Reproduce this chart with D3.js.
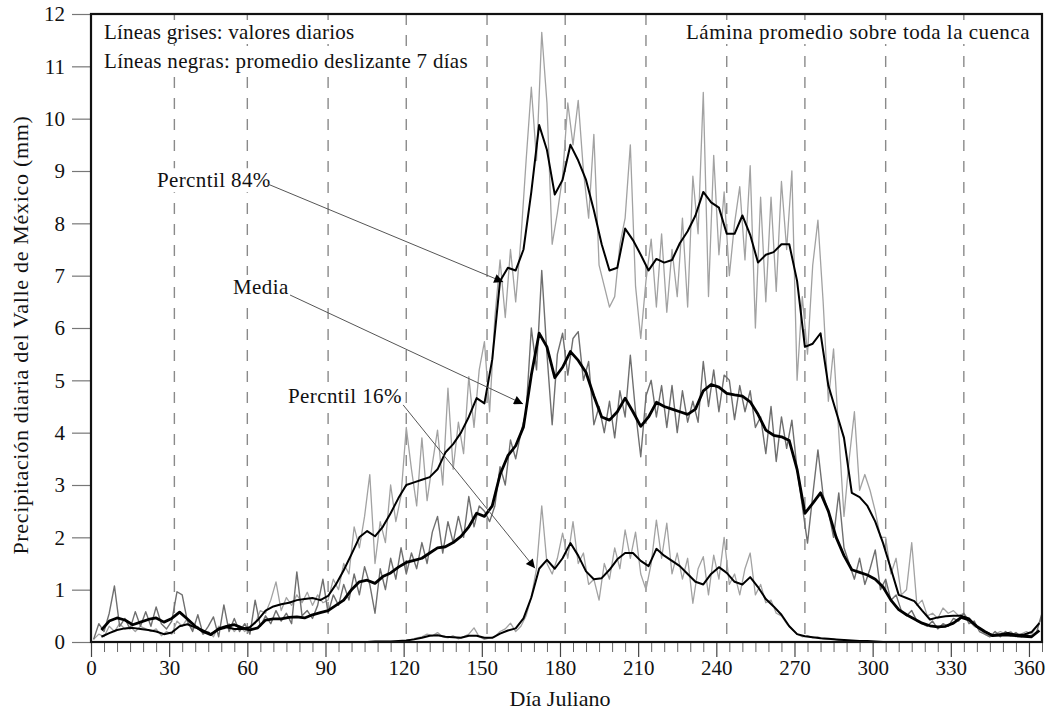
<!DOCTYPE html>
<meta charset="utf-8">
<html>
<head>
<script src="https://cdn.jsdelivr.net/npm/d3@7/dist/d3.min.js"></script>
<style>
body { margin: 0; background: #fff; }
svg text { font-family: "Liberation Serif", "Times New Roman", serif; fill: #111; }
</style>
</head>
<body>
<script>

// ---- data ------------------------------------------------------------------
// daily values (gray) are read every 2nd day, 7-day means (black) every 3rd day
var grayDays  = d3.range(1, 366, 2);
var blackDays = d3.range(4, 365, 3);

var p84Daily = [
  0.05,0.15,0.10,0.30,0.20,0.35,0.25,0.30,0.20,0.30,
  0.25,0.20,0.25,0.12,0.20,0.15,0.40,0.30,0.45,0.25,
  0.30,0.15,0.20,0.10,0.30,0.25,0.35,0.20,0.30,0.20,
  0.30,0.35,0.60,0.55,0.80,1.15,0.60,0.85,0.70,0.90,
  0.75,0.95,0.70,0.90,0.75,0.80,1.20,1.00,1.50,1.30,
  2.20,1.80,2.40,3.20,1.50,2.30,1.90,3.00,2.30,2.80,
  4.10,3.30,2.60,3.90,2.70,3.40,4.05,3.00,4.85,3.30,
  4.20,3.60,5.07,4.10,5.20,5.74,4.40,6.20,7.30,6.20,
  7.50,6.50,7.70,9.20,10.60,9.20,11.65,10.30,7.60,8.20,
  8.90,10.30,9.50,10.35,9.00,8.10,9.70,7.20,6.80,6.40,
  6.60,7.60,8.10,9.50,6.80,5.80,6.90,7.70,6.40,7.80,
  6.30,7.50,6.60,8.10,6.40,8.90,7.80,10.50,6.60,9.30,
  7.40,8.60,7.00,8.00,8.70,7.30,9.10,6.00,8.50,6.50,
  8.50,6.70,8.80,7.50,9.00,5.00,6.60,5.50,7.20,8.06,
  6.50,4.60,5.60,4.00,2.40,3.50,4.40,2.90,3.20,2.90,
  2.50,2.00,2.00,1.30,1.60,0.90,1.00,1.90,0.70,0.80,
  0.50,0.55,0.45,0.65,0.55,0.60,0.50,0.55,0.40,0.30,
  0.25,0.15,0.10,0.15,0.20,0.15,0.20,0.10,0.15,0.20,
  0.15,0.30,0.45
];

var meanDaily = [
  0.05,0.35,0.20,0.55,1.07,0.30,0.45,0.25,0.58,0.30,
  0.58,0.30,0.67,0.35,0.25,0.40,0.96,0.90,0.40,0.20,
  0.52,0.15,0.30,0.48,0.10,0.71,0.20,0.45,0.20,0.35,
  0.15,0.80,0.30,0.50,0.35,0.60,0.40,0.55,0.35,1.34,
  0.50,0.60,0.45,0.70,1.20,0.55,0.90,0.70,1.10,0.80,
  1.30,0.90,1.44,1.10,0.55,1.40,1.00,1.60,1.20,1.80,
  1.30,1.70,1.40,1.90,1.50,2.10,2.40,1.70,2.30,1.90,
  2.40,2.00,2.78,2.20,2.60,2.50,2.30,2.60,3.35,3.00,
  3.86,3.50,4.00,4.40,6.00,5.20,7.10,5.50,4.15,5.50,
  5.90,5.10,5.80,5.93,5.00,5.36,4.15,4.50,4.00,4.60,
  3.90,4.80,4.30,5.48,4.40,3.54,4.70,5.00,4.30,4.90,
  4.10,4.90,4.00,4.80,4.20,4.60,4.20,5.36,4.50,5.20,
  4.40,5.10,5.00,4.25,4.90,4.40,4.80,4.10,4.30,3.60,
  4.50,3.45,4.30,3.70,4.24,3.30,2.60,1.89,2.80,3.67,
  2.80,2.50,2.00,2.85,1.80,1.50,1.20,1.60,1.10,1.40,
  1.76,1.00,1.20,0.80,0.90,0.60,0.50,0.60,0.40,0.35,
  0.30,0.40,0.25,0.35,0.30,0.45,0.40,0.55,0.35,0.40,
  0.20,0.15,0.10,0.20,0.10,0.20,0.12,0.18,0.10,0.15,
  0.10,0.20,0.55
];

var p16Daily = [
  0,0,0,0,0,0,0,0,0,0,
  0,0,0,0,0,0,0,0,0,0,
  0,0,0,0,0,0,0,0,0,0,
  0,0,0,0,0,0,0,0,0,0,
  0,0,0,0,0,0,0,0,0,0,
  0,0,0,0,0,0,0,0,0,0.02,
  0.03,0.05,0.08,0.10,0.15,0.12,0.18,0.10,0.08,0.12,
  0.06,0.10,0.15,0.27,0.10,0.05,0.08,0.10,0.20,0.25,
  0.36,0.20,0.30,0.50,0.86,1.40,2.60,1.50,1.30,1.60,
  2.08,1.60,2.30,1.50,1.70,1.10,1.20,0.80,1.50,1.20,
  1.80,1.40,2.14,1.60,2.10,1.30,1.00,1.50,2.33,1.60,
  2.27,1.30,1.70,1.20,1.60,0.74,1.40,1.63,0.90,1.66,
  1.20,2.00,1.10,1.30,0.90,1.40,1.70,0.90,1.10,0.75,
  0.80,0.55,0.50,0.35,0.25,0.15,0.10,0.12,0.08,0.10,
  0.06,0.05,0.06,0.03,0.04,0.02,0.01,0,0,0,
  0,0,0,0,0,0,0,0,0,0,
  0,0,0,0,0,0,0,0,0,0,
  0,0,0,0,0,0,0,0,0,0,
  0,0,0
];

var p84Avg = [
  0.10,0.17,0.23,0.26,0.27,0.25,0.23,0.20,0.15,0.18,
  0.30,0.34,0.28,0.22,0.15,0.24,0.28,0.25,0.25,0.28,
  0.42,0.60,0.68,0.72,0.75,0.80,0.82,0.84,0.80,0.88,
  1.10,1.37,1.68,2.00,2.12,2.02,2.20,2.46,2.75,3.00,
  3.05,3.10,3.15,3.30,3.62,3.78,4.00,4.30,4.66,4.56,
  5.40,6.90,7.15,7.10,7.50,8.60,9.88,9.40,8.55,8.83,
  9.50,9.20,8.83,8.25,7.60,7.10,7.15,7.90,7.68,7.40,
  7.10,7.32,7.25,7.30,7.62,7.85,8.15,8.60,8.40,8.30,
  7.80,7.80,8.15,7.78,7.25,7.40,7.45,7.60,7.60,6.90,
  5.64,5.70,5.90,4.90,4.40,3.90,2.85,2.77,2.60,2.30,
  1.89,1.40,0.90,0.84,0.78,0.60,0.43,0.47,0.49,0.50,
  0.50,0.45,0.29,0.20,0.13,0.15,0.17,0.14,0.14,0.19,
  0.36
];

var meanAvg = [
  0.23,0.40,0.46,0.42,0.33,0.38,0.43,0.46,0.38,0.45,
  0.57,0.44,0.30,0.20,0.14,0.25,0.30,0.33,0.27,0.23,
  0.27,0.42,0.44,0.44,0.47,0.48,0.46,0.52,0.56,0.60,
  0.70,0.80,1.00,1.15,1.18,1.12,1.25,1.32,1.43,1.52,
  1.56,1.60,1.70,1.80,1.82,1.90,2.02,2.20,2.46,2.40,
  2.60,3.20,3.56,3.75,4.11,5.10,5.90,5.64,5.05,5.25,
  5.55,5.38,5.15,4.70,4.30,4.24,4.40,4.66,4.40,4.12,
  4.30,4.58,4.50,4.45,4.40,4.35,4.45,4.80,4.92,4.87,
  4.75,4.72,4.70,4.59,4.35,4.05,3.95,3.92,3.85,3.30,
  2.46,2.65,2.85,2.50,2.00,1.65,1.38,1.33,1.28,1.20,
  1.05,0.80,0.62,0.52,0.44,0.36,0.31,0.29,0.30,0.36,
  0.47,0.42,0.30,0.20,0.12,0.13,0.13,0.12,0.11,0.10,
  0.22
];

var p16Avg = [
  0,0,0,0,0,0,0,0,0,0,
  0,0,0,0,0,0,0,0,0,0,
  0,0,0,0,0,0,0,0,0,0,
  0,0,0,0,0,0.01,0.01,0.01,0.02,0.03,
  0.05,0.08,0.12,0.13,0.10,0.09,0.08,0.12,0.12,0.08,
  0.08,0.16,0.22,0.26,0.45,0.85,1.40,1.57,1.40,1.60,
  1.89,1.65,1.35,1.20,1.22,1.38,1.58,1.70,1.70,1.55,
  1.45,1.78,1.65,1.55,1.45,1.30,1.15,1.10,1.30,1.43,
  1.32,1.15,1.10,1.24,1.05,0.82,0.68,0.52,0.30,0.15,
  0.11,0.09,0.07,0.06,0.05,0.04,0.03,0.02,0.02,0.01,
  0,0,0,0,0,0,0,0,0,0,
  0,0,0,0,0,0,0,0,0,0,
  0
];

// first day of each month (dashed guides)
var monthStarts = [32, 60, 91, 121, 152, 182, 213, 244, 274, 305, 335];
var xTickLabels = d3.range(0, 361, 30);
var yTickLabels = d3.range(0, 13, 1);

// annotation anchors, in chart units (day, mm)
var notes = [
  { label: "Percntil 84%", tx: 25.3, ty: 8.69, x1: 67.9,  y1: 8.75, x2: 158.2, y2: 6.88 },
  { label: "Media",        tx: 54.5, ty: 6.65, x1: 76.4,  y1: 6.63, x2: 165.8, y2: 4.55 },
  { label: "Percntil 16%", tx: 75.6, ty: 4.57, x1: 119.8, y1: 4.53, x2: 170.4, y2: 1.41 }
];

// ---- chart -----------------------------------------------------------------
var width = 1049, height = 715;
var plotL = 91, plotR = 1042, plotT = 14, plotB = 642;

var svg = d3.select("body").append("svg")
  .attr("width", width)
  .attr("height", height);

var x = d3.scaleLinear().domain([0, 365]).range([plotL, plotR]);
var y = d3.scaleLinear().domain([0, 12]).range([plotB, plotT]);

svg.append("defs").append("marker")
  .attr("id", "head")
  .attr("viewBox", "0 0 10 10")
  .attr("refX", 10).attr("refY", 5)
  .attr("markerUnits", "userSpaceOnUse")
  .attr("markerWidth", 13).attr("markerHeight", 9)
  .attr("orient", "auto")
  .append("path")
  .attr("d", "M0,0L10,5L0,10z")
  .style("fill", "#000");

// dashed month guides
svg.selectAll("line.month")
  .data(monthStarts)
  .enter().append("line")
  .attr("class", "month")
  .attr("x1", function(d) { return x(d); })
  .attr("x2", function(d) { return x(d); })
  .attr("y1", plotT)
  .attr("y2", plotB)
  .style("stroke", "#8a8a8a")
  .style("stroke-width", 1.4)
  .style("stroke-dasharray", "11,10");

function zip(days, vals) {
  return vals.map(function(v, i) { return [days[i], v]; });
}

var line = d3.line()
  .x(function(d) { return x(d[0]); })
  .y(function(d) { return y(d[1]); });

// daily series (gray)
var gray = [
  { vals: p84Daily,  color: "#a2a2a2", w: 1.3 },
  { vals: p16Daily,  color: "#a2a2a2", w: 1.3 },
  { vals: meanDaily, color: "#6f6f6f", w: 1.4 }
];
svg.selectAll("path.daily")
  .data(gray)
  .enter().append("path")
  .attr("class", "daily")
  .attr("d", function(d) { return line(zip(grayDays, d.vals)); })
  .style("fill", "none")
  .style("stroke", function(d) { return d.color; })
  .style("stroke-width", function(d) { return d.w; })
  .style("stroke-linejoin", "round");

// 7-day running means (black)
var black = [
  { vals: p84Avg,  w: 2.0 },
  { vals: p16Avg,  w: 2.0 },
  { vals: meanAvg, w: 2.8 }
];
svg.selectAll("path.avg")
  .data(black)
  .enter().append("path")
  .attr("class", "avg")
  .attr("d", function(d) { return line(zip(blackDays, d.vals)); })
  .style("fill", "none")
  .style("stroke", "#000")
  .style("stroke-width", function(d) { return d.w; })
  .style("stroke-linejoin", "round");

// Axes ----
var yAxis = svg.append("g")
  .attr("transform", "translate(" + plotL + ",0)")
  .call(d3.axisLeft(y).tickValues(yTickLabels).tickSize(19).tickPadding(7));
yAxis.select(".domain").remove();
yAxis.selectAll("line").style("stroke", "#777").style("stroke-width", 1.2);
yAxis.selectAll("text").style("font-size", "21px").style("fill", "#111");

var minor = d3.range(0, 366, 5).filter(function(d) { return d % 30 !== 0; });
var xMinor = svg.append("g")
  .attr("transform", "translate(0," + plotB + ")")
  .call(d3.axisBottom(x).tickValues(minor).tickSize(10).tickFormat(""));
xMinor.select(".domain").remove();
xMinor.selectAll("line").style("stroke", "#666").style("stroke-width", 1);

var xAxis = svg.append("g")
  .attr("transform", "translate(0," + plotB + ")")
  .call(d3.axisBottom(x).tickValues(xTickLabels).tickSize(15).tickPadding(3));
xAxis.select(".domain").remove();
xAxis.selectAll("line").style("stroke", "#444").style("stroke-width", 1.2);
xAxis.selectAll("text").style("font-size", "21px").style("fill", "#111");

// frame
svg.append("rect")
  .attr("x", plotL).attr("y", plotT)
  .attr("width", plotR - plotL).attr("height", plotB - plotT)
  .style("fill", "none")
  .style("stroke", "#111")
  .style("stroke-width", 2.2);

// axis titles
svg.append("text")
  .attr("transform", "translate(28,335) rotate(-90)")
  .attr("text-anchor", "middle")
  .style("font-size", "22px")
  .style("letter-spacing", "0.7px")
  .text("Precipitación diaria del Valle de México (mm)");

svg.append("text")
  .attr("x", 560).attr("y", 706)
  .attr("text-anchor", "middle")
  .style("font-size", "22px")
  .text("Día Juliano");

// text with a white box behind it, so the guides do not cross it
function boxedText(tx, ty, str, anchor, spacing) {
  var g = svg.append("g");
  var t = g.append("text")
    .attr("x", tx).attr("y", ty)
    .attr("text-anchor", anchor || "start")
    .style("font-size", "21px")
    .style("letter-spacing", (spacing || 0) + "px")
    .text(str);
  var b = t.node().getBBox();
  g.insert("rect", "text")
    .attr("x", b.x - 2).attr("y", b.y)
    .attr("width", b.width + 4).attr("height", b.height)
    .style("fill", "#fff");
  return g;
}

boxedText(104, 39, "Líneas grises: valores diarios", "start", 0.2);
boxedText(104, 68, "Líneas negras: promedio deslizante 7 días", "start", 0.3);
boxedText(1030, 39, "Lámina promedio sobre toda la cuenca", "end", 0.5);

// annotations
notes.forEach(function(n) {
  boxedText(x(n.tx), y(n.ty), n.label, "start", 0.4);
  svg.append("line")
    .attr("x1", x(n.x1)).attr("y1", y(n.y1))
    .attr("x2", x(n.x2)).attr("y2", y(n.y2))
    .style("stroke", "#555")
    .style("stroke-width", 1)
    .attr("marker-end", "url(#head)");
});
</script>
</body>
</html>
